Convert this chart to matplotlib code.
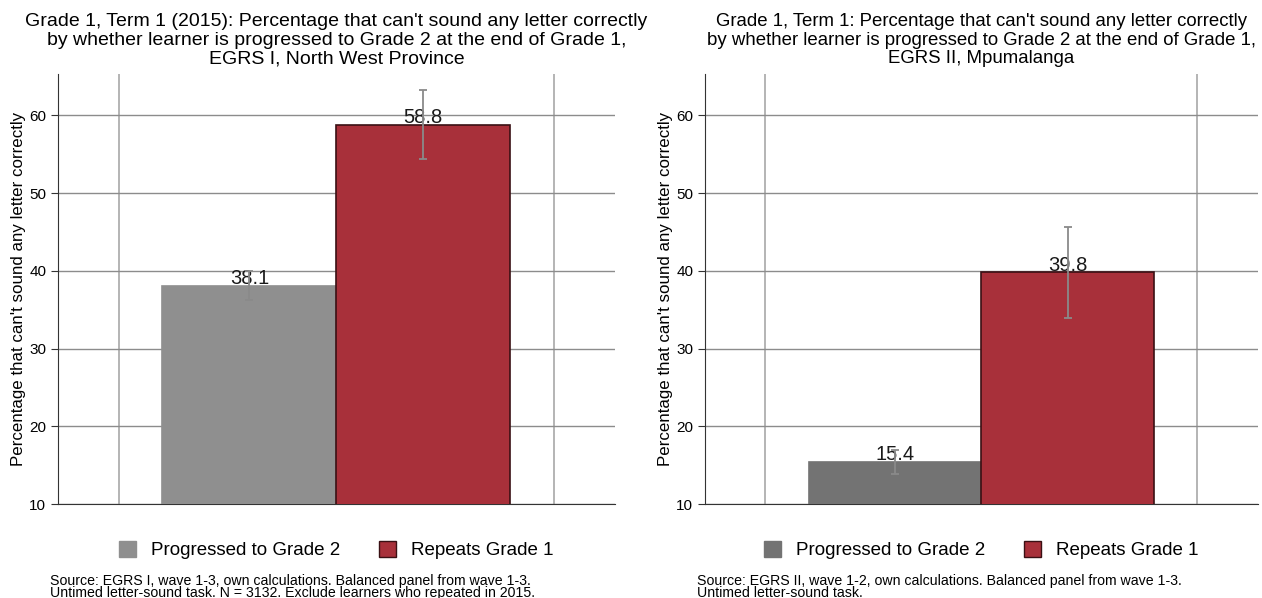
import numpy as np
import matplotlib
matplotlib.use("Agg")
import matplotlib.pyplot as plt
from matplotlib.patches import Patch

plt.rcParams['font.family'] = ['Liberation Sans', 'DejaVu Sans']

# datos
grupos = ["Progressed to Grade 2", "Repeats Grade 1"]
nw_valores = [38.1, 58.8]
nw_error = [1.9, 4.4]
mp_valores = [15.4, 39.8]
mp_error = [1.5, 5.8]

titulo_nw = ("Grade 1, Term 1 (2015): Percentage that can't sound any letter correctly\n"
             "by whether learner is progressed to Grade 2 at the end of Grade 1,\n"
             "EGRS I, North West Province")
titulo_mp = ("Grade 1, Term 1: Percentage that can't sound any letter correctly\n"
             "by whether learner is progressed to Grade 2 at the end of Grade 1,\n"
             "EGRS II, Mpumalanga")
nota_nw = ("Source: EGRS I, wave 1-3, own calculations. Balanced panel from wave 1-3.\n"
           "Untimed letter-sound task. N = 3132. Exclude learners who repeated in 2015.")
nota_mp = ("Source: EGRS II, wave 1-2, own calculations. Balanced panel from wave 1-3.\n"
           "Untimed letter-sound task.")

rojo = "#a8303a"

fig = plt.figure(figsize=(12.62, 5.98), dpi=100)
ax1 = fig.add_axes([0.046, 0.157, 0.441, 0.719])
ax2 = fig.add_axes([0.5586, 0.157, 0.438, 0.719])


def panel(ax, valores, errores, gris, titulo, nota, tam_titulo):
    x = np.arange(len(valores))
    colores = [gris, rojo]
    bordes = [gris, "#3a1014"]
    ax.bar(x, valores, width=1.0, bottom=0, color=colores, edgecolor=bordes,
           linewidth=1.2, zorder=3)
    ax.errorbar(x, valores, yerr=errores, fmt="none", ecolor="#8a8a8a",
                elinewidth=1.3, capsize=3, capthick=1.3, zorder=5)
    for xi, v in zip(x, valores):
        ax.text(xi, v - 0.3, f"{v:.1f}", ha="center", va="bottom",
                fontsize=14.5, color="#1a1a1a", zorder=4)
    ax.set_xlim(0.5 - 1.6, 0.5 + 1.6)
    ax.set_ylim(10, 65.3)
    ax.set_yticks([10, 20, 30, 40, 50, 60])
    ax.set_xticks([])
    ax.yaxis.grid(True, color="#8c8c8c", linewidth=1.0, zorder=0)
    for xv in (0.5 - 1.25, 0.5 + 1.25):
        ax.axvline(xv, color="#a8a8a8", linewidth=1.2, zorder=1)
    ax.spines["top"].set_visible(False)
    ax.spines["right"].set_visible(False)
    ax.spines["left"].set_color("#333333")
    ax.spines["bottom"].set_color("#333333")
    ax.tick_params(axis="y", labelsize=11, length=5, color="#333333")
    ax.set_ylabel("Percentage that can't sound any letter correctly", fontsize=12.2, labelpad=2)
    ax.set_title(titulo, fontsize=tam_titulo, linespacing=1.1, pad=8)
    mano = [Patch(facecolor=gris, edgecolor=gris), Patch(facecolor=rojo, edgecolor="#3a1014")]
    ax.legend(mano, grupos, loc="center", bbox_to_anchor=(0.5, -0.107), ncol=2,
              frameon=False, fontsize=13.5, handlelength=0.9, handleheight=0.9,
              columnspacing=2.1, handletextpad=0.8)
    ax.text(-0.015, -0.163, nota, transform=ax.transAxes, ha="left", va="top",
            fontsize=10.2, linespacing=0.82)


panel(ax1, nw_valores, nw_error, "#8f8f8f", titulo_nw, nota_nw, 14)
panel(ax2, mp_valores, mp_error, "#737373", titulo_mp, nota_mp, 13.4)

fig.savefig("out.png", dpi=100)
